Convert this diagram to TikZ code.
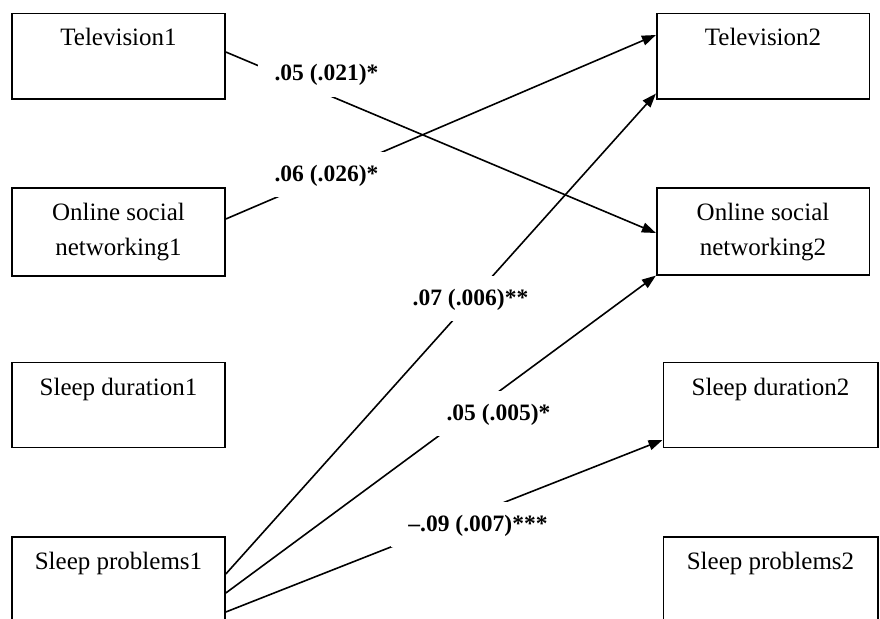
\documentclass[tikz,border=0pt]{standalone}
\usepackage{fontspec}
\setmainfont{Liberation Serif}
\usetikzlibrary{arrows.meta,calc}
\tikzset{
  varbox/.style={draw, line width=1.6pt, inner sep=0pt, anchor=north,
    minimum width=213pt, text height=32.5pt,
    font=\fontsize{25}{35}\selectfont},
  coef/.style={fill=white, inner xsep=17pt, inner ysep=0pt,
    text height=29.5pt, text depth=15.5pt, anchor=base,
    font=\bfseries\fontsize{23.5}{28}\selectfont},
  path/.style={line width=1.6pt, -{Triangle[length=14pt,width=10pt]}}
}
\begin{document}
\begin{tikzpicture}[x=1pt,y=-1pt]
\useasboundingbox (0,0) rectangle (880,618);
\clip (0,0) rectangle (880,618);
% time 1
\node[varbox, text depth=52.8pt] (tv1) at (118.5,12.7) {Television1};
\node[varbox, text depth=55.2pt] (osn1) at (118.5,187.3)
  {\begin{tabular}[t]{@{}c@{}}Online social\\networking1\end{tabular}};
\node[varbox, text depth=52.5pt] (sd1) at (118.5,361.7) {Sleep duration1};
\node[varbox, text depth=120pt] (sp1) at (118.5,536) {Sleep problems1};
% time 2
\node[varbox, minimum width=212.6pt, text depth=52.8pt] (tv2) at (763,12.7) {Television2};
\node[varbox, minimum width=212.6pt, text depth=54.2pt] (osn2) at (763,187.3)
  {\begin{tabular}[t]{@{}c@{}}Online social\\networking2\end{tabular}};
\node[varbox, minimum width=214.4pt, text depth=52.5pt] (sd2) at (770.5,361.7) {Sleep duration2};
\node[varbox, minimum width=214.4pt, text depth=120pt] (sp2) at (770.5,536) {Sleep problems2};
% paths
\draw[path] ($(tv1.north east)+(0,39.3)$) -- ($(osn2.north west)+(0,45.7)$);
\draw[path] ($(osn1.north east)+(0,31.7)$) -- ($(tv2.north west)+(0,22.3)$);
\draw[path] ($(sp1.north east)+(0,38)$) -- ($(tv2.south west)+(0,-6)$);
\draw[path] ($(sp1.north east)+(0,57)$) -- (osn2.south west);
\draw[path] ($(sp1.north east)+(0,76)$) -- ($(sd2.north west)+(0,78.3)$);
% coefficients
\node[coef] (cA) at (326.5,81) {.05 (.021)*};
\node[coef] (cB) at (326.5,181) {.06 (.026)*};
\node[coef] (cC) at (470.5,305) {.07 (.006)**};
\node[coef] (cD) at (498.5,420) {.05 (.005)*};
\node[coef] (cE) at (478,531) {–.09 (.007)***};
\end{tikzpicture}
\end{document}
